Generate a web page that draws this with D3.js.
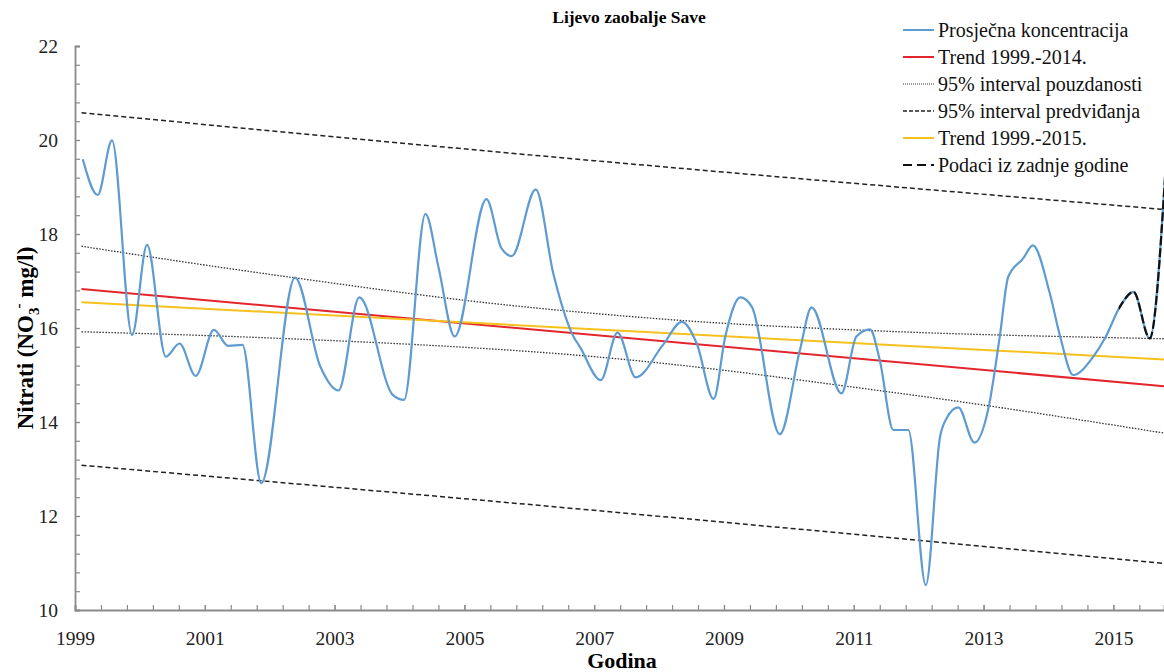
<!DOCTYPE html>
<html>
<head>
<meta charset="utf-8">
<script src="https://cdn.jsdelivr.net/npm/d3@7"></script>
<style>
  body { margin: 0; background: #fff; }
  #graphic { width: 1164px; height: 672px; }
</style>
</head>
<body>
<div id="graphic"></div>
<script>
// average concentration (decimal year, mg/l)
const avgYears = [1999.12, 1999.35, 1999.57, 1999.88, 2000.11, 2000.40, 2000.61, 2000.86,
  2001.14, 2001.36, 2001.58, 2001.87, 2002.39, 2002.78, 2003.06, 2003.38, 2003.90, 2004.07,
  2004.40, 2004.60, 2004.85, 2005.34, 2005.57, 2005.73, 2006.10, 2006.37, 2006.68, 2006.78,
  2007.10, 2007.36, 2007.64, 2008.06, 2008.35, 2008.58, 2008.84, 2009.02, 2009.25, 2009.43,
  2009.86, 2010.17, 2010.35, 2010.81, 2011.04, 2011.25, 2011.40, 2011.61, 2011.84, 2012.11,
  2012.33, 2012.43, 2012.61, 2012.86, 2013.07, 2013.25, 2013.38, 2013.61, 2013.76, 2014.02,
  2014.18, 2014.38, 2014.69, 2014.87, 2015.10, 2015.31, 2015.56, 2015.80];
const avgValues = [19.59, 18.83, 19.99, 15.85, 17.77, 15.39, 15.67, 14.98,
  15.96, 15.62, 15.64, 12.70, 17.07, 15.18, 14.67, 16.65, 14.57, 14.47,
  18.43, 17.30, 15.82, 18.74, 17.70, 17.53, 18.95, 17.16, 15.82, 15.60,
  14.89, 15.90, 14.95, 15.64, 16.13, 15.67, 14.49, 15.82, 16.65, 16.45,
  13.74, 15.53, 16.44, 14.61, 15.82, 15.97, 15.32, 13.83, 13.83, 10.53,
  13.69, 14.08, 14.31, 13.56, 14.26, 15.82, 17.09, 17.48, 17.76, 16.74,
  15.82, 15.00, 15.39, 15.78, 16.45, 16.77, 15.78, 19.30];

// last year portion (drawn dashed on top)
const lastYearFrom = 2015.08;

// trend lines
const trendYears = [1999.1, 2015.8];
const trend14 = [16.83, 14.76];
const trend15 = [16.55, 15.33];

// 95% confidence band
const ciYears = [1999.1, 2001, 2003, 2005, 2007, 2009, 2011, 2013, 2015.8];
const ciUpper = [17.74, 17.34, 16.95, 16.59, 16.31, 16.10, 15.96, 15.86, 15.77];
const ciLower = [15.92, 15.84, 15.73, 15.59, 15.39, 15.10, 14.74, 14.36, 13.76];

// 95% prediction band
const piYears = [1999.1, 2007, 2015.8];
const piUpper = [20.58, 19.56, 18.52];
const piLower = [13.08, 12.12, 10.99];

const xMajor = [1999, 2001, 2003, 2005, 2007, 2009, 2011, 2013, 2015];
const yMajor = [10, 12, 14, 16, 18, 20, 22];

const legendItems = [
  { label: "Prosječna koncentracija", color: "#5e9bd1", dash: null, width: 2 },
  { label: "Trend 1999.-2014.", color: "#e3262b", dash: null, width: 2 },
  { label: "95% interval pouzdanosti", color: "#333", dash: "1,1", width: 1 },
  { label: "95% interval predviđanja", color: "#222", dash: "4,2", width: 1.4 },
  { label: "Trend 1999.-2015.", color: "#f6c11d", dash: null, width: 2 },
  { label: "Podaci iz zadnje godine", color: "#111", dash: "9,5", width: 2 }
];

const FONT = "'Liberation Serif', 'DejaVu Serif', serif";

const Chart = {
  el: "#graphic",
  margin: { left: 75, right: 0, top: 46, bottom: 62 },
  blue: "#5e9bd1",
  red: "#e3262b",
  yellow: "#f6c11d",
  axisColor: "#8a8a8a",
  parameters(){
    this.outerWidth = 1164;
    this.outerHeight = 672;
    this.width = this.outerWidth - this.margin.left - this.margin.right;
    this.height = this.outerHeight - this.margin.top - this.margin.bottom;
  },
  createScales(){
    this.xScale = d3.scaleLinear().domain([1999, 2015.78]).range([0, this.width]);
    this.yScale = d3.scaleLinear().domain([10, 22]).range([this.height, 0]);
  },
  drawPlot(){
    this.svg = d3.select(this.el).append("svg")
      .attr("width", this.outerWidth)
      .attr("height", this.outerHeight)
      .style("font-family", FONT);
    this.svg.append("rect").attr("width", this.outerWidth).attr("height", this.outerHeight).attr("fill", "#fff");
    this.plot = this.svg.append("g")
      .attr("transform", `translate(${this.margin.left}, ${this.margin.top})`);
    this.svg.append("clipPath").attr("id", "clip")
      .append("rect").attr("x", 0).attr("y", -this.margin.top)
      .attr("width", this.width).attr("height", this.height + this.margin.top);
  },
  styleAxis(g){
    g.selectAll("line").attr("stroke", this.axisColor).attr("stroke-width", 1.2);
    g.select(".domain").attr("stroke", this.axisColor).attr("stroke-width", 1.8);
    g.selectAll("text")
      .style("font-family", FONT)
      .style("font-size", "19.5px")
      .attr("fill", "#222");
  },
  drawAxes(){
    const xMinor = d3.range(0, 43).map(i => 1999 + i * 0.4);
    const yMinor = d3.range(0, 31).map(i => 10 + i * 0.4);

    this.plot.append("g")
      .attr("transform", `translate(0, ${this.height})`)
      .call(d3.axisBottom(this.xScale).tickValues(xMinor).tickSize(-5).tickFormat(""))
      .call(g => this.styleAxis(g));

    this.plot.append("g")
      .attr("transform", `translate(0, ${this.height})`)
      .call(d3.axisBottom(this.xScale).tickValues(xMajor).tickSize(-5).tickPadding(21).tickFormat(d3.format("d")))
      .call(g => g.select(".domain").remove())
      .call(g => this.styleAxis(g));

    this.plot.append("g")
      .call(d3.axisLeft(this.yScale).tickValues(yMinor).tickSize(-5).tickFormat(""))
      .call(g => this.styleAxis(g));

    this.plot.append("g")
      .call(d3.axisLeft(this.yScale).tickValues(yMajor).tickSize(-5).tickPadding(17).tickFormat(d3.format("d")))
      .call(g => g.select(".domain").remove())
      .call(g => this.styleAxis(g));
  },
  line(xs, ys, curve){
    return d3.line()
      .x((d, i) => this.xScale(xs[i]))
      .y((d, i) => this.yScale(ys[i]))
      .curve(curve || d3.curveLinear)(ys);
  },
  drawData(){
    const g = this.plot.append("g").attr("clip-path", "url(#clip)");

    g.append("path").attr("d", this.line(piYears, piUpper, d3.curveNatural))
      .attr("fill", "none").attr("stroke", "#222").attr("stroke-width", 1.5).attr("stroke-dasharray", "5,3");
    g.append("path").attr("d", this.line(piYears, piLower, d3.curveNatural))
      .attr("fill", "none").attr("stroke", "#222").attr("stroke-width", 1.5).attr("stroke-dasharray", "5,3");

    g.append("path").attr("d", this.line(ciYears, ciUpper, d3.curveNatural))
      .attr("fill", "none").attr("stroke", "#333").attr("stroke-width", 1.3).attr("stroke-dasharray", "1.5,1.5");
    g.append("path").attr("d", this.line(ciYears, ciLower, d3.curveNatural))
      .attr("fill", "none").attr("stroke", "#333").attr("stroke-width", 1.3).attr("stroke-dasharray", "1.5,1.5");

    g.append("path").attr("d", this.line(trendYears, trend14))
      .attr("fill", "none").attr("stroke", this.red).attr("stroke-width", 2);
    g.append("path").attr("d", this.line(trendYears, trend15))
      .attr("fill", "none").attr("stroke", this.yellow).attr("stroke-width", 2);

    const full = this.line(avgYears, avgValues, d3.curveMonotoneX);
    g.append("path").attr("d", full)
      .attr("fill", "none").attr("stroke", this.blue).attr("stroke-width", 2.2)
      .style("stroke-linejoin", "round");

    // last year overlay
    this.svg.append("clipPath").attr("id", "clipLast")
      .append("rect").attr("x", this.xScale(lastYearFrom)).attr("y", -this.margin.top)
      .attr("width", this.width - this.xScale(lastYearFrom)).attr("height", this.height + this.margin.top);
    g.append("g").attr("clip-path", "url(#clipLast)")
      .append("path").attr("d", full)
      .attr("fill", "none").attr("stroke", "#111").attr("stroke-width", 2.2)
      .attr("stroke-dasharray", "9,3");
  },
  drawLabels(){
    this.svg.append("text")
      .attr("x", 629).attr("y", 23)
      .attr("text-anchor", "middle")
      .style("font-weight", "bold").style("font-size", "17.5px")
      .text("Lijevo zaobalje Save");

    this.svg.append("text")
      .attr("x", 622).attr("y", 668)
      .attr("text-anchor", "middle")
      .style("font-weight", "bold").style("font-size", "22px")
      .text("Godina");

    const yl = this.svg.append("text")
      .attr("transform", "translate(33, 338) rotate(-90)")
      .attr("text-anchor", "middle")
      .style("font-weight", "bold").style("font-size", "23px");
    yl.append("tspan").text("Nitrati (NO");
    yl.append("tspan").attr("dy", 6).style("font-size", "15px").text("3");
    yl.append("tspan").attr("dy", -16).attr("dx", -1).style("font-size", "15px").text("-");
    yl.append("tspan").attr("dy", 10).text(" mg/l)");
  },
  drawLegend(){
    const lg = this.svg.append("g").attr("transform", "translate(903, 30)");
    const rows = lg.selectAll("g").data(legendItems).enter().append("g")
      .attr("transform", (d, i) => `translate(0, ${i * 27})`);
    rows.append("line")
      .attr("x1", 0).attr("x2", 31).attr("y1", 0).attr("y2", 0)
      .attr("stroke", d => d.color)
      .attr("stroke-width", d => d.width)
      .attr("stroke-dasharray", d => d.dash);
    rows.append("text")
      .attr("x", 35).attr("y", 6.5)
      .style("font-size", "20px").attr("fill", "#111")
      .text(d => d.label);
  },
  draw(){
    this.parameters();
    this.createScales();
    this.drawPlot();
    this.drawAxes();
    this.drawData();
    this.drawLabels();
    this.drawLegend();
  }
};

Chart.draw();
</script>
</body>
</html>
